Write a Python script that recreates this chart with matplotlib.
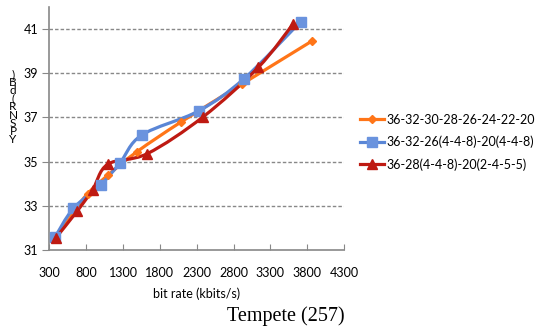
"""Tempete (257): Y-PSNR vs bit rate for three QP cascades."""
import matplotlib
matplotlib.use("Agg")
import matplotlib.pyplot as plt
import numpy as np
from matplotlib.lines import Line2D
from matplotlib.patches import PathPatch
from matplotlib.path import Path

# data
labels = ["36-32-30-28-26-24-22-20",
          "36-32-26(4-4-8)-20(4-4-8)",
          "36-28(4-4-8)-20(2-4-5-5)"]
rate_a = [390, 640, 820, 1100, 1490, 2090, 2910, 3860]
psnr_a = [31.55, 32.75, 33.55, 34.4, 35.45, 36.8, 38.5, 40.45]
rate_b = [377, 625, 997, 1259, 1553, 2330, 2944, 3709]
psnr_b = [31.58, 32.88, 33.95, 34.94, 36.2, 37.3, 38.76, 41.33]
rate_c = [391, 680, 888, 1092, 1629, 2388, 3134, 3608]
psnr_c = [31.56, 32.77, 33.73, 34.88, 35.36, 37.03, 39.26, 41.23]

xticks = list(range(300, 4301, 500))
yticks = [31, 33, 35, 37, 39, 41]


def smooth_path(x, y):
    # Excel-style smoothed line: cubic bezier through every point
    p = np.column_stack([x, y]).astype(float)
    n = len(p)
    verts = [p[0]]
    codes = [Path.MOVETO]
    for i in range(n - 1):
        p0 = p[i - 1] if i > 0 else p[i]
        p3 = p[i + 2] if i + 2 < n else p[i + 1]
        c1 = p[i] + (p[i + 1] - p0) / 6
        c2 = p[i + 1] - (p3 - p[i]) / 6
        verts += [c1, c2, p[i + 1]]
        codes += [Path.CURVE4] * 3
    return Path(verts, codes)


plt.rcParams['font.family'] = ['Lato', 'DejaVu Sans']

fig = plt.figure(figsize=(5.43, 3.29), dpi=100)
ax = fig.add_axes([0.0908, 0.240, 0.543, 0.739])

series = [
    (rate_a, psnr_a, '#FF7518', '#FF7518', 'D', 4.0),
    (rate_b, psnr_b, '#5A86D6', '#6A93DE', 's', 6.5),
    (rate_c, psnr_c, '#BE1A12', '#BE1A12', '^', 7.5),
]
handles = []
for (x, y, lc, mc, mk, ms), name in zip(series, labels):
    ax.add_patch(PathPatch(smooth_path(x, y), facecolor='none', edgecolor=lc,
                           linewidth=2.3, capstyle='round', joinstyle='round', zorder=3))
    ax.plot(x, y, linestyle='none', marker=mk, markersize=ms, color=mc,
            markeredgecolor=mc, zorder=4)
    handles.append(Line2D([], [], color=lc, linewidth=2.3, marker=mk,
                          markersize=ms, markerfacecolor=mc, markeredgecolor=mc))

ax.set_xlim(300, 4300)
ax.set_ylim(31, 42)
ax.set_xticks(xticks)
ax.set_yticks(yticks)
ax.tick_params(axis='x', direction='in', length=4, color='#888888',
               labelsize=9, pad=12)
ax.tick_params(axis='y', direction='out', length=5, color='#888888',
               labelsize=9, pad=3)
for s in ['top', 'right']:
    ax.spines[s].set_visible(False)
for s in ['left', 'bottom']:
    ax.spines[s].set_color('#888888')
    ax.spines[s].set_linewidth(1.2)
for yv in yticks[1:]:
    ax.axhline(yv, color='#888888', linestyle=(0, (2.5, 1.5)), linewidth=1.0, zorder=1)

ax.set_xlabel('bit rate (kbits/s)', fontsize=9, labelpad=6)

# garbled stacked y label as in the reference
fig.text(0.024, 0.675, ")\nB\nd\n(\nR\nN\nS\nP\nY", fontsize=8.5,
         ha='center', va='center', linespacing=0.68)

fig.text(0.527, 0.04, 'Tempete (257)', family='Liberation Serif',
         fontsize=14.5, ha='center', va='center')

fig.legend(handles, labels, loc='center left', bbox_to_anchor=(0.663, 0.568),
           frameon=False, fontsize=9, handlelength=1.9, handletextpad=0.2,
           labelspacing=0.8, borderpad=0, borderaxespad=0)

fig.savefig('out.png', dpi=100)
